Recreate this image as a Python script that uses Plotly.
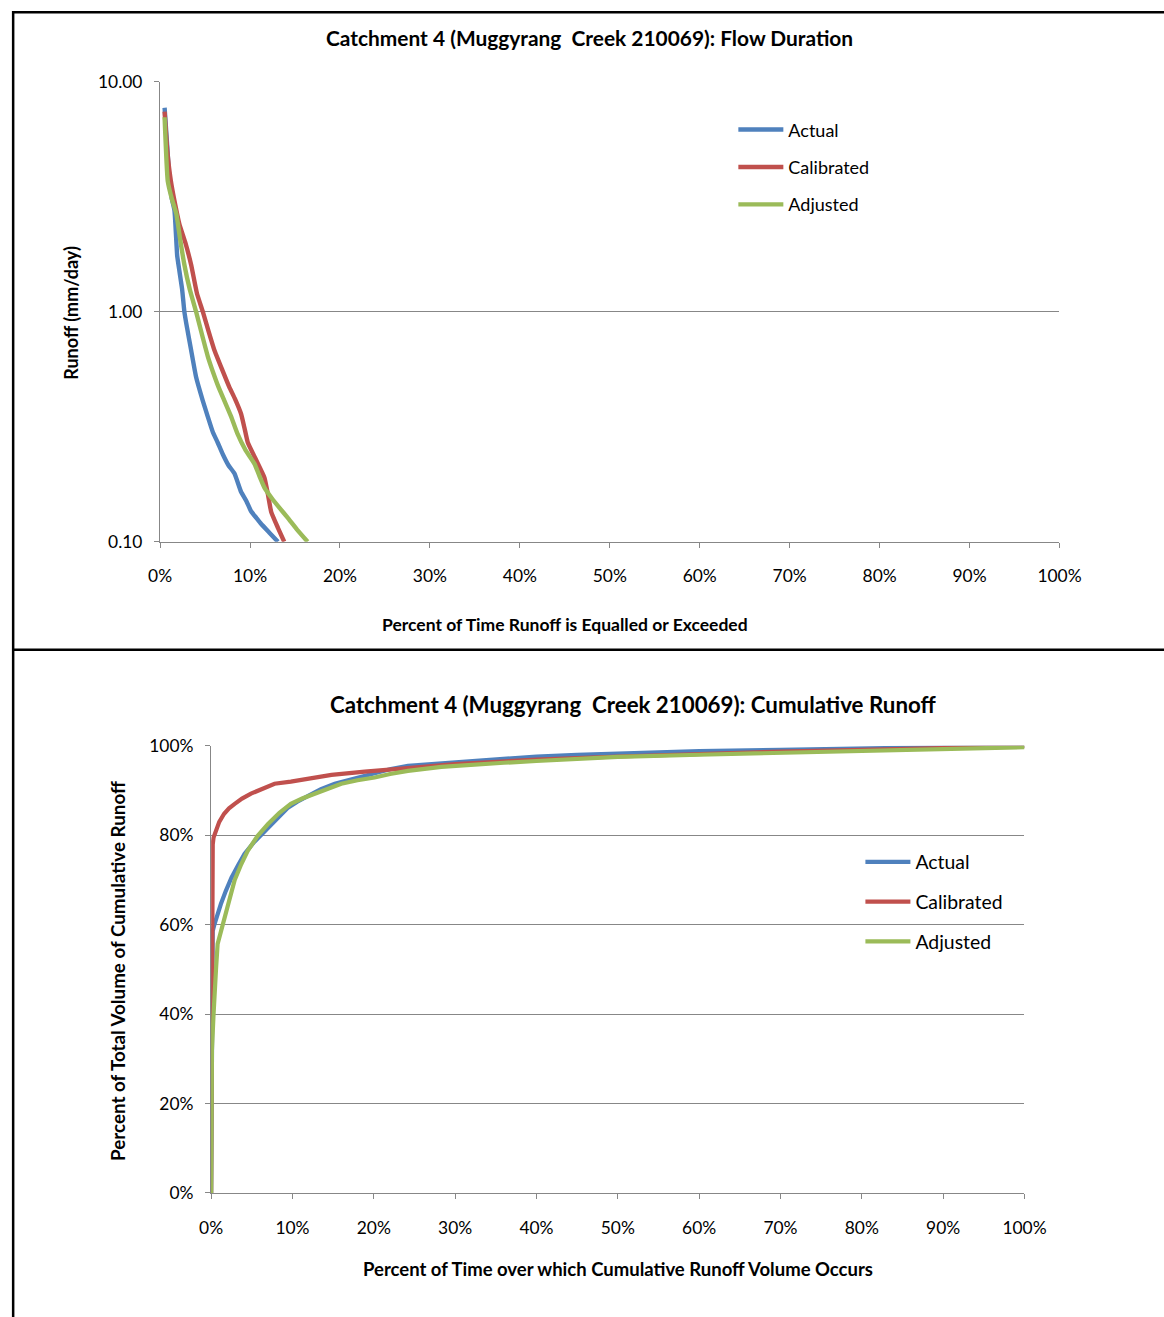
import plotly.graph_objects as go

# ---- Flow duration (top panel) ----
actual_fd_pct = [0.5, 0.8, 1.05, 1.3, 1.6, 1.9, 2.15, 2.45, 2.7, 3.0, 3.45, 4.0, 4.75, 5.3,
                 5.86, 6.4, 6.97, 7.6, 8.27, 9.0, 9.6, 10.1, 10.7, 11.2, 12.1, 13.1]
actual_fd = [7.7, 5.2, 3.7, 3.1, 2.75, 1.75, 1.5, 1.25, 1.0, 0.85, 0.68, 0.52, 0.41, 0.35,
             0.30, 0.27, 0.24, 0.215, 0.198, 0.165, 0.15, 0.136, 0.127, 0.12, 0.11, 0.10]

calibrated_fd_pct = [0.5, 0.8, 1.2, 1.7, 2.15, 2.8, 3.45, 4.1, 4.75, 5.4, 6.04, 6.9, 7.7, 8.3,
                     9.0, 9.4, 9.75, 10.6, 11.6, 12.0, 12.35, 13.1, 13.8]
calibrated_fd = [7.4, 5.0, 3.7, 2.9, 2.4, 2.0, 1.6, 1.2, 1.0, 0.82, 0.68, 0.56, 0.47, 0.42,
                 0.36, 0.31, 0.27, 0.23, 0.19, 0.16, 0.135, 0.115, 0.10]

adjusted_fd_pct = [0.5, 0.85, 1.3, 1.8, 2.2, 2.7, 3.3, 4.0, 4.75, 5.3, 5.86, 6.5, 7.15, 7.9,
                   8.6, 9.5, 10.5, 11.0, 11.6, 12.4, 13.3, 14.2, 15.3, 16.4]
adjusted_fd = [7.0, 3.7, 3.1, 2.67, 2.1, 1.6, 1.25, 1.0, 0.77, 0.64, 0.55, 0.47, 0.41, 0.35,
               0.295, 0.25, 0.218, 0.195, 0.172, 0.155, 0.14, 0.127, 0.112, 0.10]

# ---- Cumulative runoff (bottom panel) ----
actual_cum_pct = [0, 0.05, 0.1, 0.2, 0.4, 0.8, 1.2, 1.8, 2.5, 3.3, 4.1, 5.3, 6.6, 8.0, 9.4,
                  10.6, 11.9, 13.5, 15.2, 18.0, 20.0, 22.1, 24.2, 28.3, 32, 36, 40, 45, 50,
                  60, 70, 80, 90, 100]
actual_cum = [0, 30, 45, 58.6, 60, 62.5, 64.6, 67.5, 70.5, 73.2, 75.8, 78.5, 81, 83.7, 86.1,
              87.5, 88.8, 90.3, 91.5, 92.9, 93.9, 94.8, 95.5, 96.1, 96.6, 97.1, 97.6, 98.0,
              98.3, 98.8, 99.1, 99.4, 99.7, 100]

calibrated_cum_pct = [0, 0.05, 0.1, 0.15, 0.2, 0.2, 0.3, 0.6, 1.0, 1.6, 2.2, 2.9, 3.8, 4.9,
                      6.3, 7.8, 9.8, 11.9, 14.8, 18.9, 22.1, 26, 30, 35, 40, 50, 60, 70, 80,
                      90, 100]
calibrated_cum = [0, 30, 44, 60, 71.3, 78, 79.5, 81, 83, 84.8, 86, 87, 88.2, 89.3, 90.4, 91.5,
                  92.0, 92.6, 93.5, 94.2, 94.6, 95.3, 95.9, 96.4, 96.9, 97.6, 98.2, 98.7,
                  99.1, 99.5, 99.9]

adjusted_cum_pct = [0, 0.1, 0.1, 0.3, 0.4, 0.6, 0.8, 1.2, 1.6, 2.2, 2.9, 3.7, 4.5, 5.7, 7.0,
                    8.4, 9.8, 11.2, 12.7, 14.3, 16.0, 18, 20.1, 22, 24.2, 28.3, 32, 36, 40,
                    45, 50, 60, 70, 80, 90, 100]
adjusted_cum = [0, 20, 32, 40, 45, 50, 55.7, 58.5, 61.5, 66.0, 70.0, 73.5, 76.5, 79.8, 82.5,
                85, 87, 88.2, 89.2, 90.5, 91.5, 92.3, 92.9, 93.7, 94.4, 95.3, 95.8, 96.2,
                96.6, 97.0, 97.5, 98.0, 98.4, 98.8, 99.2, 99.7]

series_names = ["Actual", "Calibrated", "Adjusted"]
series_colors = ["#4F81BD", "#C0504D", "#9BBB59"]

x_ticks = list(range(0, 101, 10))
x_ticklabels = [f"{v}%" for v in x_ticks]
fd_ticks = [0.1, 1, 10]
fd_ticklabels = ["0.10", "1.00", "10.00"]
cum_ticks = list(range(0, 101, 20))
cum_ticklabels = [f"{v}%" for v in cum_ticks]

# Layout helpers: positions are given in target image pixels and converted to the
# figure's paper fractions (page has an 8px body margin; capture scale per axis).
PAGE_MARGIN = 8
SX, OXI = 0.971, 3.2
SY, OYI = 0.984, 2.5
W = 1190
H = 1330
FONT = "Lato, 'Open Sans', sans-serif"
GRID = "#878787"


def px_x(px):
    return ((px - OXI) / SX - PAGE_MARGIN) / W


def px_y(py):
    return 1 - ((py - OYI) / SY - PAGE_MARGIN) / H


fig = go.Figure()

fd_sets = [(actual_fd_pct, actual_fd), (calibrated_fd_pct, calibrated_fd),
           (adjusted_fd_pct, adjusted_fd)]
cum_sets = [(actual_cum_pct, actual_cum), (calibrated_cum_pct, calibrated_cum),
            (adjusted_cum_pct, adjusted_cum)]

for i, (name, color, (xs, ys)) in enumerate(zip(series_names, series_colors, fd_sets)):
    fig.add_trace(go.Scatter(x=xs, y=ys, mode="lines", name=name,
                             line=dict(color=color, width=4.4, shape="spline", smoothing=0.4),
                             xaxis="x", yaxis="y", legend="legend",
                             legendgroup=f"fd{i}"))

for i, (name, color, (xs, ys)) in enumerate(zip(series_names, series_colors, cum_sets)):
    fig.add_trace(go.Scatter(x=xs, y=ys, mode="lines", name=name,
                             line=dict(color=color, width=4.2),
                             xaxis="x2", yaxis="y2", legend="legend2",
                             legendgroup=f"cum{i}"))

axis_common = dict(showline=True, linecolor=GRID, linewidth=1.3, ticks="outside",
                   tickcolor=GRID, ticklen=5, tickwidth=1.3, zeroline=False,
                   tickfont=dict(family=FONT, size=17.4, color="#000"))

fig.update_layout(
    width=W, height=H, autosize=False,
    margin=dict(l=0, r=0, t=0, b=0),
    paper_bgcolor="white", plot_bgcolor="white",
    font=dict(family=FONT, color="#000"),
    xaxis=dict(domain=[px_x(159), px_x(1058)], anchor="y", range=[0, 100],
               tickvals=x_ticks, ticktext=x_ticklabels, showgrid=False,
               ticklabelstandoff=13, **axis_common),
    yaxis=dict(domain=[px_y(541), px_y(81)], anchor="x", type="log", range=[-1, 1],
               tickvals=fd_ticks, ticktext=fd_ticklabels, showgrid=True,
               gridcolor=GRID, gridwidth=1.3, ticklabelstandoff=8, **axis_common),
    xaxis2=dict(domain=[px_x(210), px_x(1023)], anchor="y2", range=[0, 100],
                tickvals=x_ticks, ticktext=x_ticklabels, showgrid=False,
                ticklabelstandoff=14, **axis_common),
    yaxis2=dict(domain=[px_y(1192), px_y(745)], anchor="x2", range=[0, 100],
                tickvals=cum_ticks, ticktext=cum_ticklabels, showgrid=True,
                gridcolor=GRID, gridwidth=1.3, ticklabelstandoff=8, **axis_common),
    legend=dict(x=px_x(732), y=px_y(110.7), xanchor="left", yanchor="top",
                bgcolor="rgba(0,0,0,0)", font=dict(family=FONT, size=18),
                tracegroupgap=11, itemwidth=45),
    legend2=dict(x=px_x(859), y=px_y(842), xanchor="left", yanchor="top",
                 bgcolor="rgba(0,0,0,0)", font=dict(family=FONT, size=19.4),
                 tracegroupgap=11.5, itemwidth=45),
)

annotations = [
    dict(text="<b>Catchment 4 (Muggyrang\u00a0 Creek 210069): Flow Duration</b>",
         x=px_x(588), y=px_y(37), font=dict(size=20.9)),
    dict(text="<b>Percent of Time Runoff is Equalled or Exceeded</b>",
         x=px_x(564), y=px_y(624), font=dict(size=17.5)),
    dict(text="<b>Runoff (mm/day)</b>", x=px_x(70), y=px_y(312), textangle=-90,
         font=dict(size=18)),
    dict(text="<b>Catchment 4 (Muggyrang\u00a0 Creek 210069): Cumulative Runoff</b>",
         x=px_x(632), y=px_y(704), font=dict(size=22.3)),
    dict(text="<b>Percent of Time over which Cumulative Runoff Volume Occurs</b>",
         x=px_x(617), y=px_y(1268), font=dict(size=18.5)),
    dict(text="<b>Percent of Total Volume of Cumulative Runoff</b>", x=px_x(117),
         y=px_y(970), textangle=-90, font=dict(size=18.8)),
]
for a in annotations:
    a.update(xref="paper", yref="paper", showarrow=False, xanchor="center",
             yanchor="middle")
    a["font"].update(family=FONT, color="#000")
fig.update_layout(annotations=annotations)

# Black frame lines around and between the two panels
frame = dict(type="line", xref="paper", yref="paper", line=dict(color="#000", width=2.5))
fig.add_shape(x0=0, x1=1, y0=0.999, y1=0.999, **frame)
fig.add_shape(x0=0.001, x1=0.001, y0=1, y1=0, **frame)
fig.add_shape(x0=0, x1=1, y0=px_y(649), y1=px_y(649), **frame)

fig.write_html("out.html")
